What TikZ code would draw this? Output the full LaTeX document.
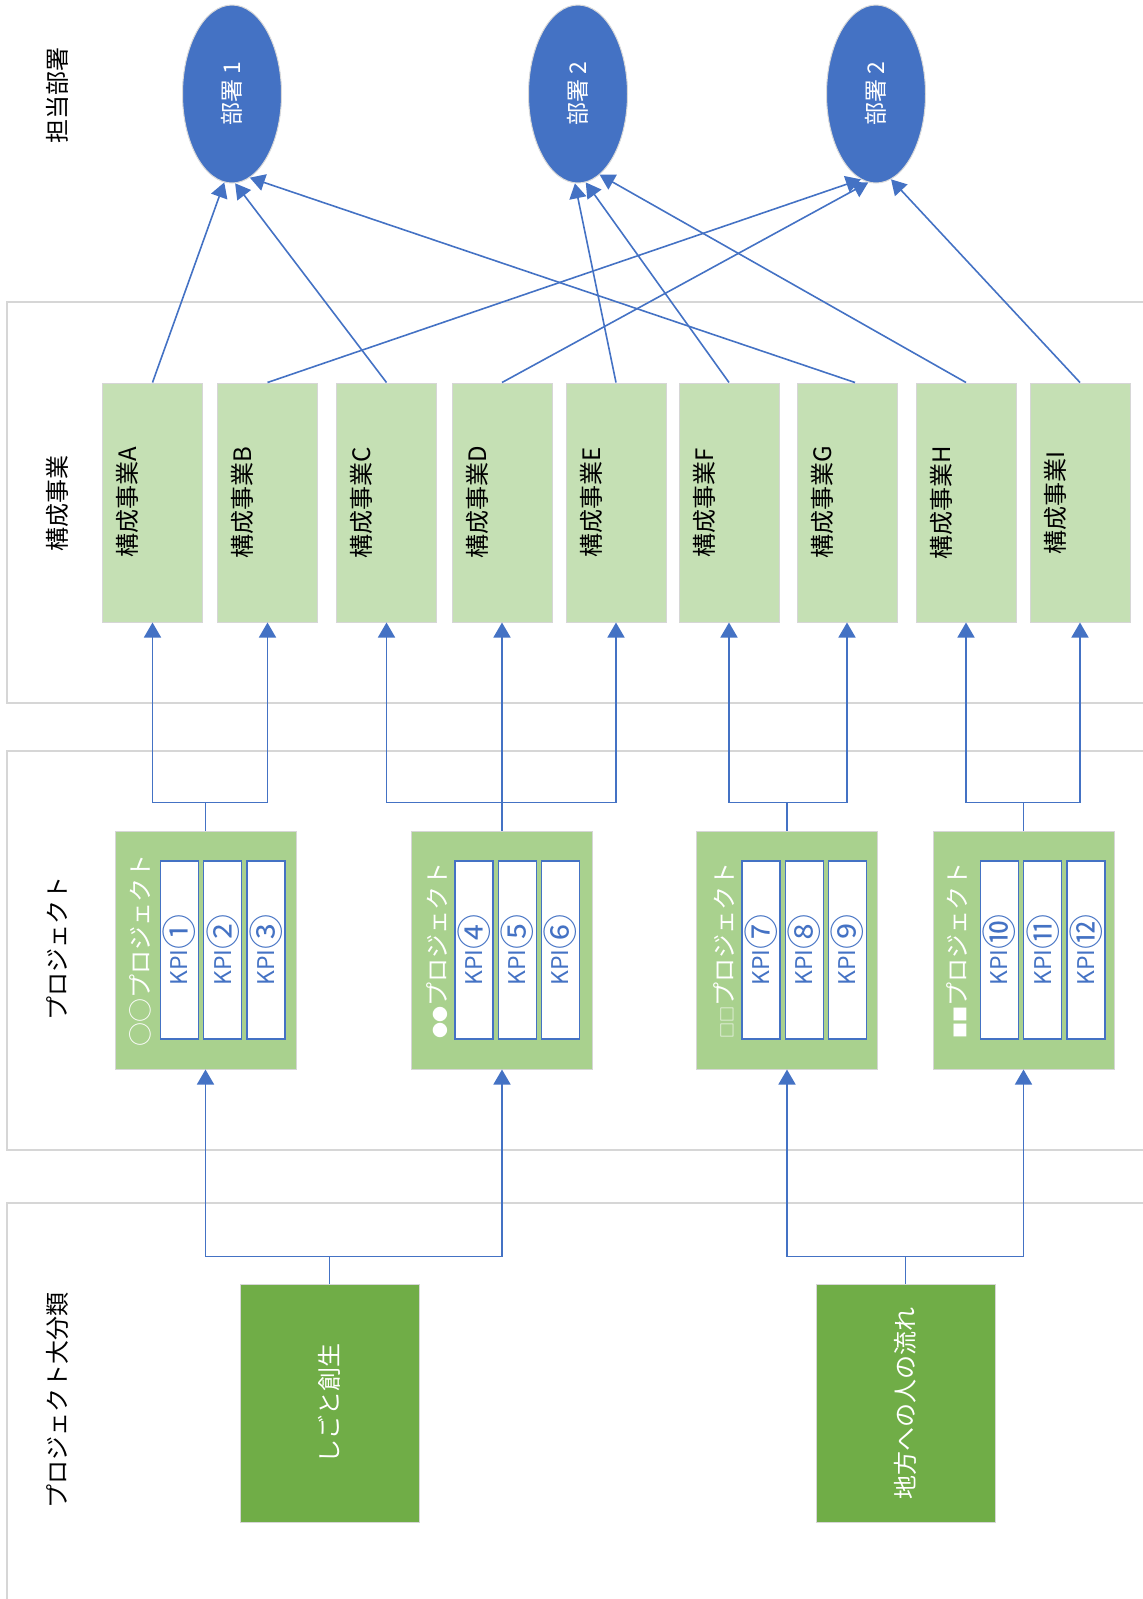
\documentclass[tikz,border=0pt]{standalone}
\usepackage{fontspec}
\setmainfont{Noto Sans CJK JP}
\usepackage{graphicx}
\usepackage{tikz}
\usetikzlibrary{shapes.geometric,arrows.meta,positioning}

\definecolor{azul}{HTML}{4472C4}
\definecolor{verdeclaro}{HTML}{C5E0B4}
\definecolor{verdemedio}{HTML}{A9D18E}
\definecolor{verdeoscuro}{HTML}{70AD47}
\definecolor{gris}{HTML}{D6D6D6}

\newcommand{\rotar}[1]{\rotatebox{90}{#1}}
\newcommand{\tam}[1]{\fontsize{#1}{#1}\selectfont}
\newcommand{\num}[1]{\raisebox{-5pt}{\tam{35}#1}}

\begin{document}
\begin{tikzpicture}[x=1pt,y=-1pt,
  panel/.style={draw=gris,line width=1.5pt},
  fila/.style={font=\tam{24},inner sep=0pt},
  depto/.style={ellipse,fill=azul,draw=gray!30,line width=1pt,minimum width=99,minimum height=178,inner sep=0pt,text=white,font=\tam{23}},
  negocio/.style={rectangle,fill=verdeclaro,draw=gris,line width=1pt,minimum width=100,minimum height=239},
  txtneg/.style={font=\tam{24},inner sep=0pt},
  proyecto/.style={rectangle,fill=verdemedio,draw=gris,line width=1pt,minimum width=181,minimum height=238},
  txtproy/.style={font=\tam{24},text=white,inner sep=0pt},
  kpi/.style={rectangle,fill=white,draw=azul,line width=1.2pt,minimum width=38,minimum height=178,inner sep=0pt,text=azul,font=\tam{23}},
  categoria/.style={rectangle,fill=verdeoscuro,draw=gris,line width=1pt,minimum width=179,minimum height=238,text=white,font=\tam{24}},
  flecha/.style={draw=azul,line width=1.6pt,-{Triangle[width=17pt,length=15pt]}},
]
  \useasboundingbox (0,0) rectangle (1143,1599);
  \clip (0,0) rectangle (1143,1599);

  % Paneles de fondo
  \draw[panel] (7,302) rectangle (1170,703);
  \draw[panel] (7,751) rectangle (1170,1150);
  \draw[panel] (7,1203) rectangle (1170,1640);

  % Etiquetas de filas
  \node[fila] (lDep)  at (57,95)   {\rotar{担当部署}};
  \node[fila] (lNeg)  at (57,503)  {\rotar{構成事業}};
  \node[fila] (lProy) at (57,948)  {\rotar{プロジェクト}};
  \node[fila] (lCat)  at (57,1400) {\rotar{プロジェクト大分類}};

  % Departamentos
  \node[depto] (d1) at (232,94) {\rotar{部署 1}};
  \node[depto] (d2) at (578,94) {\rotar{部署 2}};
  \node[depto] (d3) at (876,94) {\rotar{部署 2}};

  % Negocios
  \foreach \n/\x in {A/152.5,B/267.5,C/386.5,D/502,E/616,F/729,G/847,H/966,I/1080}{
    \node[negocio] (n\n) at (\x,502.5) {};
    \node[txtneg] (t\n) at ([xshift=-25]n\n.center) {\rotar{構成事業\n}};
  }

  % Proyectos
  \node[proyecto] (p1) at (205.5,950) {};
  \node[txtproy] (tp1) at ([xshift=26]p1.west) {\rotar{○○プロジェクト}};
  \node[kpi] (k1) at ([xshift=-26]p1.center) {\rotar{KPI\num{①}}};
  \node[kpi,right=4pt of k1] (k2) {\rotar{KPI\num{②}}};
  \node[kpi,right=4pt of k2] (k3) {\rotar{KPI\num{③}}};

  \node[proyecto] (p2) at (502,950) {};
  \node[txtproy] (tp2) at ([xshift=26]p2.west) {\rotar{{\tam{16}●●}プロジェクト}};
  \node[kpi] (k4) at ([xshift=-28]p2.center) {\rotar{KPI\num{④}}};
  \node[kpi,right=4pt of k4] (k5) {\rotar{KPI\num{⑤}}};
  \node[kpi,right=4pt of k5] (k6) {\rotar{KPI\num{⑥}}};

  \node[proyecto] (p3) at (787,950) {};
  \node[txtproy] (tp3) at ([xshift=28]p3.west) {\rotar{{\tam{16}□□}プロジェクト}};
  \node[kpi] (k7) at ([xshift=-26]p3.center) {\rotar{KPI\num{⑦}}};
  \node[kpi,right=4pt of k7] (k8) {\rotar{KPI\num{⑧}}};
  \node[kpi,right=4pt of k8] (k9) {\rotar{KPI\num{⑨}}};

  \node[proyecto] (p4) at (1023.5,950) {};
  \node[txtproy] (tp4) at ([xshift=25]p4.west) {\rotar{{\tam{16}■■}プロジェクト}};
  \node[kpi] (k10) at ([xshift=-24]p4.center) {\rotar{KPI\num{⑩}}};
  \node[kpi,right=4pt of k10] (k11) {\rotar{KPI\num{⑪}}};
  \node[kpi,right=4pt of k11] (k12) {\rotar{KPI\num{⑫}}};

  % Categorias
  \node[categoria] (c1) at (329.5,1403) {\rotar{しごと創生}};
  \node[categoria] (c2) at (905.5,1403) {\rotar{地方への人の流れ}};

  % Categorias -> proyectos
  \draw[flecha] (c1.north) -- ++(0,-27) -| (p1.south);
  \draw[flecha] (c1.north) -- ++(0,-27) -| (p2.south);
  \draw[flecha] (c2.north) -- ++(0,-27) -| (p3.south);
  \draw[flecha] (c2.north) -- ++(0,-27) -| (p4.south);

  % Proyectos -> negocios
  \draw[flecha] (p1.north) -- ++(0,-28) -| (nA.south);
  \draw[flecha] (p1.north) -- ++(0,-28) -| (nB.south);
  \draw[flecha] (p2.north) -- ++(0,-28) -| (nC.south);
  \draw[flecha] (p2.north) -- (nD.south);
  \draw[flecha] (p2.north) -- ++(0,-28) -| (nE.south);
  \draw[flecha] (p3.north) -- ++(0,-28) -| (nF.south);
  \draw[flecha] (p3.north) -- ++(0,-28) -| (nG.south);
  \draw[flecha] (p4.north) -- ++(0,-28) -| (nH.south);
  \draw[flecha] (p4.north) -- ++(0,-28) -| (nI.south);

  % Negocios -> departamentos
  \draw[flecha] (nA.north) -- (d1.-95);
  \draw[flecha] (nB.north) -- (d3.-100);
  \draw[flecha] (nC.north) -- (d1.-88);
  \draw[flecha] (nD.north) -- (d3.-95);
  \draw[flecha] (nE.north) -- (d2.-92);
  \draw[flecha] (nF.north) -- (d2.-85);
  \draw[flecha] ([xshift=8]nG.north) -- (d1.-78);
  \draw[flecha] (nH.north) -- (d2.-75);
  \draw[flecha] (nI.north) -- (d3.-80);
\end{tikzpicture}
\end{document}
